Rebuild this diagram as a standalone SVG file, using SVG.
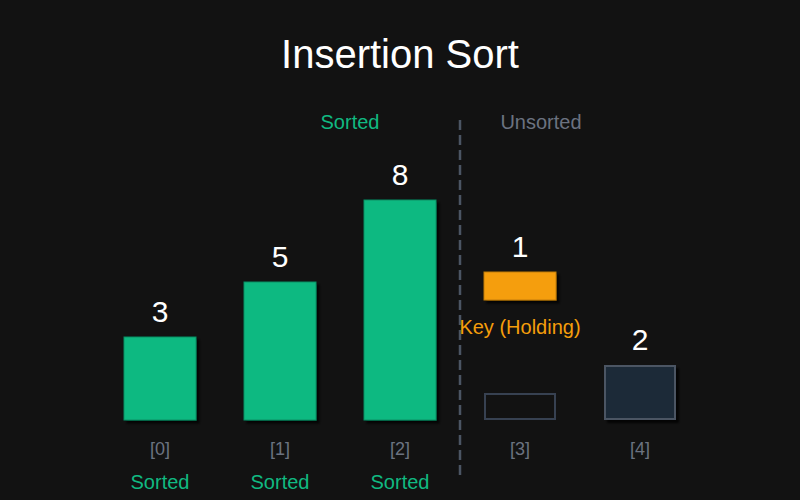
<svg xmlns="http://www.w3.org/2000/svg" width="800" height="500" viewBox="0 0 800 500">
  <defs>
    <filter id="shadow" x="-20%" y="-20%" width="140%" height="140%">
      <feDropShadow dx="3" dy="3" stdDeviation="1.2" flood-color="#000000" flood-opacity="0.8"/>
    </filter>
    <style>
      text { font-family: "Liberation Sans", Arial, Helvetica, sans-serif; text-anchor: middle; }
      .title { font-size: 40px; fill: #ffffff; }
      .val { font-size: 30px; fill: #ffffff; }
      .idx { font-size: 18px; fill: #6b7280; }
      .lbl { font-size: 20px; }
      .green { fill: #10b981; }
      .grey { fill: #6b7280; }
      .orange { fill: #f59e0b; }
      .sorted { fill: #10b981; stroke: #0a8f64; stroke-width: 1; filter: url(#shadow); }
      .key { fill: #f59e0b; stroke: #c27c08; stroke-width: 1; filter: url(#shadow); }
      .empty { fill: none; stroke: #374151; stroke-width: 2; }
      .unsorted { fill: #1f2937; stroke: #4b5563; stroke-width: 2; filter: url(#shadow); }
    </style>
  </defs>
  <rect width="800" height="500" fill="#121212"/>
  <text class="title" x="400" y="68">Insertion Sort</text>
  <text class="lbl green" x="350" y="129">Sorted</text>
  <text class="lbl grey" x="541" y="129">Unsorted</text>

  <g id="connectors">
    <line x1="460" y1="120" x2="460" y2="475" stroke="#4b5563" stroke-width="2.5" stroke-dasharray="10 5"/>
  </g>

  <g id="node0">
    <rect class="sorted" x="124" y="337" width="72" height="83"/>
    <text class="val" x="160" y="322">3</text>
    <text class="idx" x="160" y="455">[0]</text>
    <text class="lbl green" x="160" y="489">Sorted</text>
  </g>
  <g id="node1">
    <rect class="sorted" x="244" y="282" width="72" height="138"/>
    <text class="val" x="280" y="267">5</text>
    <text class="idx" x="280" y="455">[1]</text>
    <text class="lbl green" x="280" y="489">Sorted</text>
  </g>
  <g id="node2">
    <rect class="sorted" x="364" y="200" width="72" height="220"/>
    <text class="val" x="400" y="185">8</text>
    <text class="idx" x="400" y="455">[2]</text>
    <text class="lbl green" x="400" y="489">Sorted</text>
  </g>
  <g id="key">
    <rect class="key" x="484" y="272" width="72" height="28"/>
    <text class="val" x="520" y="257">1</text>
    <text class="lbl orange" x="520" y="334">Key (Holding)</text>
  </g>
  <g id="node3">
    <rect class="empty" x="485" y="394" width="70" height="25"/>
    <text class="idx" x="520" y="455">[3]</text>
  </g>
  <g id="node4">
    <rect class="unsorted" x="605" y="366" width="70" height="53"/>
    <text class="val" x="640" y="350">2</text>
    <text class="idx" x="640" y="455">[4]</text>
  </g>
</svg>
